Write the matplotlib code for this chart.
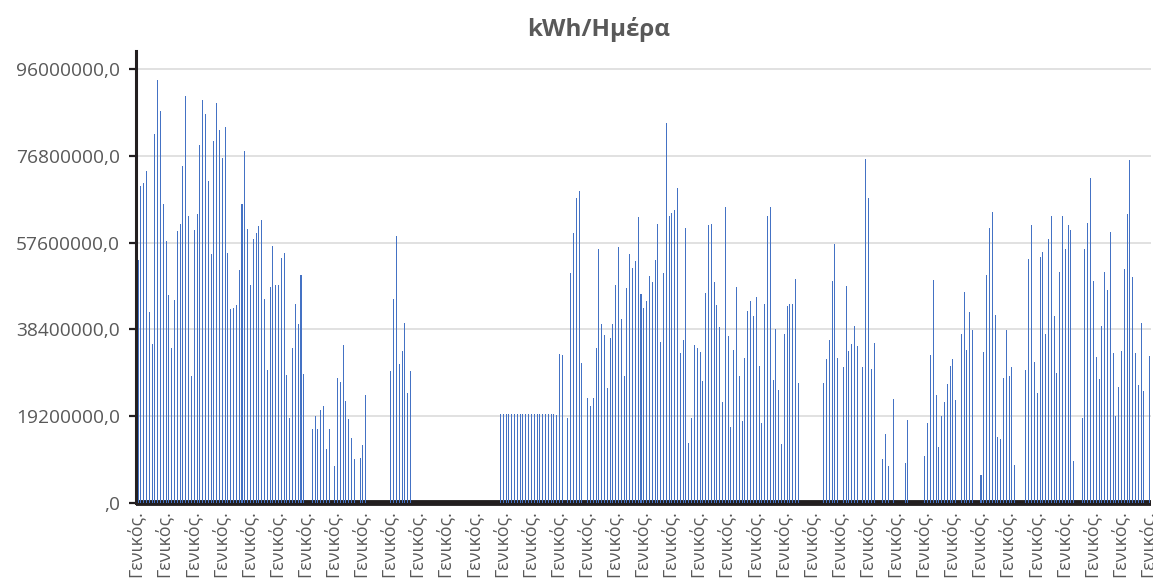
import numpy as np
import matplotlib
matplotlib.use("Agg")
import matplotlib.pyplot as plt

plt.rcParams['font.family'] = ['Open Sans', 'DejaVu Sans']

# Daily values in millions of kWh (361 days)
seg1 = [53.7, 70.2, 70.8, 73.4, 42.3, 35.1, 81.7, 93.5, 86.8, 66.2,
        58.0, 46.1, 34.4, 44.9, 60.2, 61.8, 74.5, 90.0, 63.6, 28.1,
        60.3, 63.9, 79.2, 89.2, 86.1, 71.3, 55.0, 80.0, 88.5, 82.6,
        76.4, 83.2, 55.3, 43.0, 43.2, 43.9, 51.5, 66.1, 77.8, 60.7,
        48.2, 58.3, 59.8, 61.2, 62.7, 45.2, 29.4, 47.7, 56.9, 48.2,
        48.2, 54.1, 55.2, 28.3, 18.9, 34.2, 44.0, 39.5, 50.4, 28.5]
seg2 = [0, 0, 16.3, 19.3, 16.4, 20.6, 21.5, 11.9, 16.3, 0,
        8.1, 27.6, 26.7, 34.9, 22.6, 18.6, 14.3, 9.8, 0, 10.0,
        12.8, 24.0, 0, 0, 0, 0, 0, 0, 0, 0,
        29.1, 45.2, 59.0, 30.7, 33.6, 39.8, 24.4, 29.2, 0, 0,
        0, 0, 0, 0, 0, 0, 0, 0, 0, 0,
        0, 0, 0, 0, 0, 0, 0, 0, 0, 0]
seg3 = [0, 0, 0, 0, 0, 0, 0, 0, 0, 19.7,
        19.7, 19.7, 19.7, 19.7, 19.7, 19.7, 19.7, 19.7, 19.7, 19.7,
        19.7, 19.7, 19.7, 19.7, 19.7, 19.7, 19.7, 19.7, 19.7, 19.5,
        33.0, 32.8, 0, 18.7, 50.9, 59.8, 67.4, 69.0, 30.9, 0,
        23.2, 21.5, 23.3, 34.3, 56.2, 39.6, 37.1, 25.5, 36.6, 39.6,
        48.2, 56.7, 40.6, 28.1, 47.5, 55.0, 52.1, 53.5, 63.2, 46.2]
seg4 = [43.2, 44.7, 50.2, 48.8, 53.8, 61.8, 35.6, 50.9, 84.0, 63.6,
        64.1, 64.9, 69.6, 33.2, 36.0, 60.9, 13.2, 18.9, 34.9, 34.2,
        33.3, 27.0, 46.4, 61.6, 61.8, 48.9, 43.7, 39.0, 22.3, 65.5,
        37.0, 16.8, 33.8, 47.8, 28.1, 18.2, 32.1, 42.4, 44.7, 41.3,
        45.6, 30.3, 17.6, 44.0, 63.6, 65.4, 27.2, 38.4, 24.9, 13.1,
        37.4, 43.5, 44.0, 44.1, 49.6, 26.6, 0, 0, 0, 0]
seg5 = [0, 0, 0, 0, 26.6, 31.8, 36.0, 49.2, 57.4, 32.1,
        0, 30.1, 48.0, 33.6, 35.2, 39.2, 34.7, 0, 30.1, 76.1,
        67.5, 29.6, 35.5, 0, 0, 9.8, 15.3, 8.1, 0, 23.0,
        0, 0, 0, 8.9, 18.4, 0, 0, 0, 0, 0,
        10.3, 17.7, 32.7, 49.4, 24.0, 12.3, 19.3, 22.3, 26.4, 30.3,
        31.9, 22.7, 0, 37.4, 46.6, 33.8, 42.3, 38.3, 0, 0]
seg6 = [6.2, 33.3, 50.5, 60.8, 64.4, 41.5, 14.7, 14.2, 27.6, 38.3,
        28.0, 30.1, 8.3, 0, 0, 0, 29.4, 54.0, 61.4, 31.1,
        24.4, 54.4, 55.5, 37.4, 58.3, 63.4, 41.4, 28.8, 51.0, 63.6,
        56.3, 61.6, 60.5, 9.4, 0, 0, 18.9, 56.1, 61.9, 71.9,
        49.2, 32.3, 27.4, 39.1, 51.0, 47.2, 60.0, 33.1, 19.3, 25.7,
        33.6, 51.7, 63.9, 75.8, 49.9, 33.1, 26.1, 39.8, 24.8, 0,
        32.6]

values = np.array(seg1 + seg2 + seg3 + seg4 + seg5 + seg6) * 1e6
categories = ["Γενικός."] * len(values)

y_ticks = [0, 19200000, 38400000, 57600000, 76800000, 96000000]
y_tick_labels = [",0", "19200000,0", "38400000,0", "57600000,0", "76800000,0", "96000000,0"]

W, H = 1153, 579
fig = plt.figure(figsize=(W / 100, H / 100), dpi=100)
ax = fig.add_axes([135.5 / W, 1 - 503 / H, (1151 - 135.5) / W, (503 - 51) / H])

x = np.arange(len(values))
ax.bar(x, values, width=0.36, color="#4472C4", zorder=3, linewidth=0)

ax.set_xlim(-0.5, len(values) - 0.5)
ax.set_ylim(0, 100e6)

ax.set_yticks(y_ticks)
ax.set_yticklabels(y_tick_labels, color="#595959", fontsize=13.8)
ax.yaxis.grid(True, color="#D9D9D9", linewidth=1.1, zorder=0)
ax.set_axisbelow(True)

lab_idx = x[::10]
ax.set_xticks(lab_idx - 0.9)
ax.set_xticklabels([categories[i] for i in lab_idx], rotation=90,
                   color="#595959", fontsize=12.8, va="top", ha="center")
ax.tick_params(axis="x", length=0, pad=5)
ax.tick_params(axis="y", length=5, width=1.6, color="#231F20", pad=6, direction="out")

for s in ["top", "right"]:
    ax.spines[s].set_visible(False)
ax.spines["left"].set_color("#231F20")
ax.spines["left"].set_linewidth(2.2)
ax.spines["bottom"].set_color("#231F20")
ax.spines["bottom"].set_linewidth(4.2)
ax.spines["bottom"].set_capstyle("butt")

fig.text(599 / W, 1 - 29 / H, "kWh/Ημέρα", ha="center", va="center",
         fontsize=17.5, fontweight="bold", color="#595959")

fig.savefig("out.png", dpi=100)
